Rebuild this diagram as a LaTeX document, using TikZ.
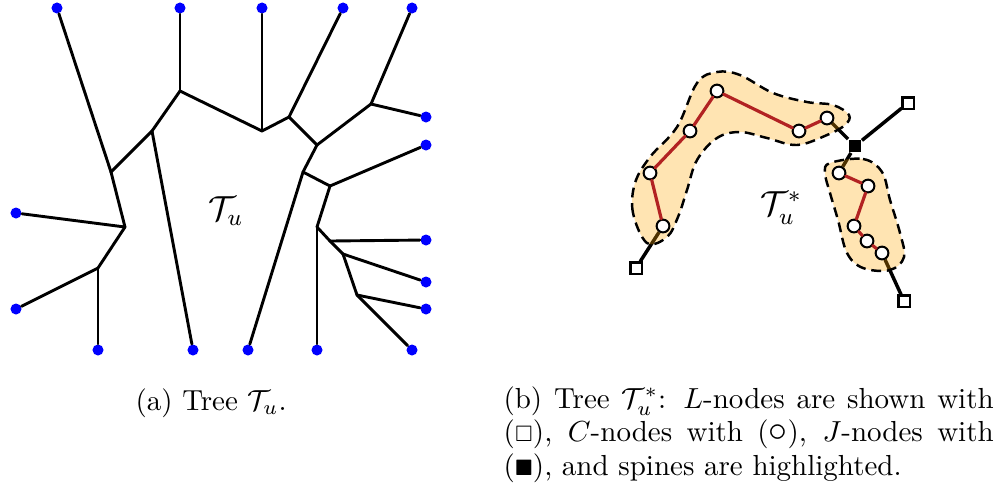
\documentclass[tikz,border=0pt]{standalone}
\usepackage{amssymb}
\pgfdeclarelayer{edges}
\pgfsetlayers{edges,main}
\definecolor{spinered}{RGB}{178,34,34}
\definecolor{spinefill}{RGB}{255,165,0}
\newcommand{\capfont}{\fontsize{10}{11.7}\selectfont}

\begin{document}
\begin{tikzpicture}[x=0.3448pt, y=-0.3448pt, line cap=round,
  tedge/.style={line width=1pt},
  redge/.style={draw=black, line width=1.2pt},
  sedge/.style={draw=spinered, line width=1.1pt},
  leaf/.style={circle, fill=blue, inner sep=0pt, minimum size=3.8pt},
  cnode/.style={circle, draw, fill=white, line width=0.7pt, inner sep=0pt, minimum size=4.4pt},
  lnode/.style={rectangle, draw, fill=white, line width=0.7pt, inner sep=0pt, minimum size=3.8pt},
  jnode/.style={rectangle, fill=black, inner sep=0pt, minimum size=4.4pt},
  spineblob/.style={draw=black, line width=0.85pt, line cap=butt, dash pattern=on 3.4pt off 2pt, fill=spinefill, fill opacity=0.3},
  caption/.style={anchor=base west, inner sep=0pt, font=\capfont}]
 \useasboundingbox (0,0) rectangle (1005,497);

 % (a) the tree T_u: leaves, inner points, then the edges
 \foreach \name/\x/\y in {l1/57/8, l2/180/8, l3/262/8, l4/343/8, l5/412/8, l6/426/117,
   l7/426/145, l8/16/213, l9/426/240, l10/426/282, l11/16/309, l12/426/309,
   l13/98/350, l14/193/350, l15/248/350, l16/317/350, l17/412/350} {
  \node[leaf] (\name) at (\x,\y) {};
 }
 \foreach \name/\x/\y in {a/180/91, b/152/131, c/262/131, d/111/172, e/289/117,
   f/125/227, g/317/145, h/98/268, i/371/104, j/303/172, k/330/186, m/317/227,
   n/330/241, o/343/254, p/357/295} {
  \coordinate (\name) at (\x,\y);
 }
 \foreach \s/\t in {a/l2, a/b, a/c, b/d, b/l14, c/l3, c/e, d/l1, d/f, e/l4, e/g,
   f/l8, f/h, g/i, g/j, h/l11, h/l13, i/l5, i/l6, j/l15, j/k, k/l7, k/m, m/l16,
   m/n, n/l9, n/o, o/l10, o/p, p/l12, p/l17} {
  \draw[tedge] (\s) -- (\t);
 }
 \node[font=\fontsize{12}{14}\selectfont] (tu) at (226,211) {$\mathcal{T}_u$};

 % (b) the tree T_u^*: C-nodes, L-nodes and the J-node
 \foreach \name/\x/\y in {c1/663/226, c2/650/173, c3/690/131, c4/717/91, c5/799/131,
   c6/827/118, c7/839/173, c8/868/186, c9/854/226, c10/867/241, c11/882/253} {
  \node[cnode] (\name) at (\x,\y) {};
 }
 \foreach \name/\x/\y in {la/636/268, lb/908/103, lc/904/301} {
  \node[lnode] (\name) at (\x,\y) {};
 }
 \node[jnode] (jn) at (855,146) {};

 % plain edges and the highlighted spines underneath the nodes
 \begin{pgfonlayer}{edges}
  \foreach \s/\t in {la/c1, c6/jn, jn/lb, jn/c7, c11/lc} {
   \draw[redge] (\s) -- (\t);
  }
  \draw[spineblob] plot[smooth cycle, tension=0.6] coordinates {(647,243) (633,213)
    (635,183) (650,157) (677,127) (697,83) (717,72) (740,75) (773,93) (807,102)
    (833,105) (849,115) (845,125) (827,135) (797,145) (767,138) (740,132) (717,138)
    (697,160) (687,190) (678,217) (667,237)};
  \draw[spineblob] plot[smooth cycle, tension=0.6] coordinates {(830,163) (863,159)
    (882,172) (890,200) (900,233) (904,257) (890,270) (863,268) (847,253) (838,220)
    (830,193) (825,173)};
 \end{pgfonlayer}
 \foreach \s/\t in {c1/c2, c2/c3, c3/c4, c4/c5, c5/c6, c7/c8, c8/c9, c9/c10, c10/c11} {
  \draw[sedge] (\s) -- (\t);
 }
 \node[font=\fontsize{12}{14}\selectfont] (tus) at (781,208) {$\mathcal{T}_u^*$};

 % captions
 \node[caption] (capa) at (135,410) {(a) Tree $\mathcal{T}_u$.};
 \node[caption, text width=169pt, align=justify] (capb) at (503,408) {(b) Tree
   $\mathcal{T}_u^*$: $L$-nodes are shown with\linebreak ($\scriptstyle\square$),
   $C$-nodes with (\scalebox{1.3}{$\circ$}), $J$-nodes with\linebreak
   ($\scriptstyle\blacksquare$), and spines are highlighted.};
\end{tikzpicture}
\end{document}
